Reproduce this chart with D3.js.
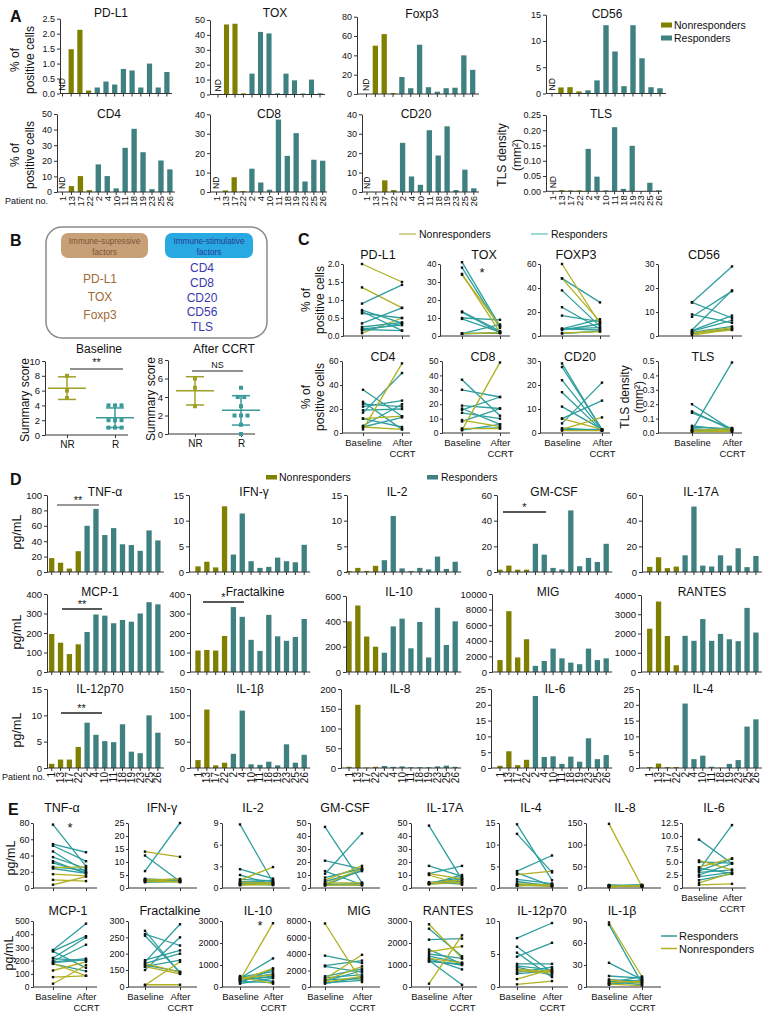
<!DOCTYPE html>
<html><head><meta charset="utf-8">
<script src="https://cdn.jsdelivr.net/npm/d3@7"></script>
<style>body{margin:0;background:#fff}svg{font-family:"Liberation Sans",Arial,sans-serif}</style>
</head><body><script>
// ---------- DATA ----------
const patients = ["1","13","17","22","2","4","10","11","18","19","23","25","26"];
const groups = ["NR","NR","NR","NR","R","R","R","R","R","R","R","R","R"];

// Panel A (% positive cells / TLS density); null = ND
const aPDL1 = [null,1.48,2.13,0.1,0.2,0.4,0.3,0.82,0.77,0.2,1.0,0.2,0.72];
const aTOX  = [null,47,47.5,0.8,14,42,41,0.8,14,9.5,0.7,10,0.8];
const aFOXP3= [null,50,62,1,17.6,6,51,7,2.4,6,6.5,40,25];
const aCD56 = [null,1.15,1.2,0.4,0.6,2.5,13,8,1.4,13,6.7,1.2,1.0];
const aCD4  = [null,3.8,10.2,1.2,17.7,10.2,2.3,28.3,40.5,25.5,1.8,20.2,14.5];
const aCD8  = [null,0.8,7.6,0.5,12,4.9,1.2,37.3,18.6,30.3,5.4,16.6,16.1];
const aCD20 = [null,0,6,1,25.3,8,3.7,31.8,18.8,33.8,1,11.5,1.9];
const aTLS  = [null,0.004,0.003,0.003,0.139,0.048,0.003,0.21,0.008,0.149,0.001,0.028,0.003];

// Panel B summary scores
const bBaselineNR = [8,6,5];
const bBaselineR  = [4,4,4,2,2,2,1,1,1];
const bAfterNR    = [6,5,3];
const bAfterR     = [5,4,4,3,2,2,2,1,0];

// Panel C paired values [baseline, after CCRT, group]
const cPDL1 = [[2.0,1.5,"NR"],[1.35,0.78,"NR"],[0.08,0.5,"NR"],[0.9,1.42,"R"],[0.72,0.36,"R"],[0.68,0.15,"R"],[0.63,0.5,"R"],[0.35,0.78,"R"],[0.25,0.38,"R"],[0.2,0.3,"R"],[0.18,0.15,"R"],[0.15,0.35,"R"]];
const cTOX  = [[41,5.5,"R"],[38,4.5,"R"],[13.6,2.7,"R"],[13.2,1.8,"R"],[10,9,"R"],[9.5,2.2,"R"],[1.3,6.4,"R"],[1.5,1.5,"R"],[1.2,1.8,"R"],[34,5.5,"NR"],[34.5,2,"NR"],[1.3,1.8,"NR"]];
const cFOXP3= [[48,28,"R"],[38,8,"R"],[24,6,"R"],[17,12,"R"],[6,14,"R"],[6,5,"R"],[6,7,"R"],[5,10,"R"],[2,4,"R"],[60,10,"NR"],[48,12,"NR"],[2.5,3.7,"NR"]];
const cCD56 = [[14,29,"R"],[14,7.5,"R"],[9,5.5,"R"],[8,18.7,"R"],[2.2,8.5,"R"],[2.5,19,"R"],[1.5,4,"R"],[2,6.5,"R"],[1,3,"R"],[1.2,2.5,"NR"],[1.3,3.5,"NR"],[0.4,2.8,"NR"]];
const cCD4  = [[36,14,"R"],[26,3,"R"],[24,22,"R"],[22,27,"R"],[17,50,"R"],[19,20,"R"],[12,5,"R"],[6,24,"R"],[5,13,"R"],[3,58,"NR"],[12,14,"NR"],[5,3,"NR"]];
const cCD8  = [[37,12,"R"],[30,25,"R"],[19,17,"R"],[17,6,"R"],[16,25,"R"],[14,10,"R"],[8,17,"R"],[3,3.5,"R"],[2,6,"R"],[2,49,"NR"],[9,4.5,"NR"],[3,3,"NR"]];
const cCD20 = [[29,1.2,"R"],[27.5,1.5,"R"],[22,1.2,"R"],[17,1,"R"],[11,1.5,"R"],[6,13.5,"R"],[4,21,"R"],[2,1,"R"],[1.5,1.5,"R"],[6,1.5,"NR"],[1.5,6.5,"NR"],[1,1,"NR"]];
const cTLS  = [[0.2,0.02,"R"],[0.15,0.02,"R"],[0.14,0.03,"R"],[0.02,0.49,"R"],[0.05,0.02,"R"],[0.04,0.03,"R"],[0.02,0.02,"R"],[0.03,0.01,"R"],[0.015,0.035,"R"],[0.01,0.02,"NR"],[0.02,0.03,"NR"],[0.01,0.01,"NR"]];

// Panel D cytokines (pg/mL) per patient
const dTNFa   = [18,12,4.5,27,60,82,48,57,36,35,27.5,54,41];
const dIFNg   = [1.1,2.0,0.9,12.8,3.4,11.4,2.1,0.8,1.0,2.8,2.1,1.9,5.3];
const dIL2    = [0.2,0.8,0.2,1.2,2.3,10.9,0.7,0.2,0.8,0.5,3.0,0.6,2.0];
const dGMCSF  = [1.8,5,1.8,1.8,22,13.5,3.2,2,48,4.5,11,7.8,22];
const dIL17A  = [4,11.5,3,4.2,13,51,5,4.3,13,5,18.5,3.8,12.5];
const dMCP1   = [195,150,92,142,205,295,289,250,267,258,300,358,347];
const dFKN    = [110,113,110,185,333,283,165,108,293,183,160,180,272];
const dIL10   = [400,525,280,200,152,360,421,187,395,115,507,213,400];
const dMIG    = [1530,7800,1870,4200,790,1410,3000,1750,1200,1000,3000,1530,1750];
const dRANTES = [2250,3660,1870,350,1880,1620,2750,1620,1980,1700,1600,3330,2050];
const dIL12   = [0.8,1.6,1.6,4,8.6,6.3,5.1,4.9,8.3,3.1,2.8,10,6.7];
const dIL1b   = [15,111,5,10,27,109,7,6,12,5,45,10,25];
const dIL8    = [3,160,1,3,5,3,4,2,2,2,4,6,3];
const dIL6    = [0.7,5.3,0.9,2.6,22.8,3.5,3.7,1.3,3.6,2.0,9.4,2.8,4.1];
const dIL4    = [0.3,1.4,0.3,0.3,20.4,2.8,3.9,0.4,0.1,1.3,2.5,13.1,15.4];

// Panel E paired cytokines [baseline, after CCRT, group]
const eTNFa  = [[78,27,"R"],[54,44,"R"],[52,33,"R"],[45,20,"R"],[38,24,"R"],[33,18,"R"],[31,19,"R"],[26,22,"R"],[24,18,"R"],[17,15,"NR"],[10,8.5,"NR"],[4,14,"NR"],[25,26,"NR"]];
const eIFNg  = [[12.5,2.5,"R"],[6.5,25,"R"],[3,2.5,"R"],[3.5,3,"R"],[2.5,2.8,"R"],[2.8,3.5,"R"],[3.2,2.6,"R"],[2.2,2.5,"R"],[3,3,"R"],[14,12,"NR"],[3,3.5,"NR"],[2.5,2.5,"NR"],[3.5,2.2,"NR"]];
const eIL2   = [[8.8,0.8,"R"],[2.6,1.3,"R"],[1.8,0.5,"R"],[1.2,1,"R"],[0.9,0.7,"R"],[0.7,1.1,"R"],[0.5,0.6,"R"],[0.4,0.9,"R"],[0.6,0.4,"R"],[1.1,2.9,"NR"],[0.5,0.6,"NR"],[0.8,0.7,"NR"],[0.4,0.5,"NR"]];
const eGMCSF = [[47,4,"R"],[21,14.5,"R"],[13,2.5,"R"],[11,42,"R"],[8,15,"R"],[5,13,"R"],[3,2,"R"],[2.5,3.5,"R"],[2,14,"R"],[6,17,"NR"],[4,4,"NR"],[2,2.5,"NR"],[3,15,"NR"]];
const eIL17A = [[48,6.5,"R"],[17,9,"R"],[11,17,"R"],[4,8,"R"],[3.5,5,"R"],[3,10,"R"],[4.5,3,"R"],[3,7,"R"],[3.2,4,"R"],[11,7,"NR"],[10,2.5,"NR"],[4,6,"NR"],[3,4.5,"NR"]];
const eIL4   = [[14.7,1.8,"R"],[12.5,3.6,"R"],[3.9,7.5,"R"],[3.5,0.5,"R"],[2,1,"R"],[1.5,0.4,"R"],[0.8,0.6,"R"],[0.5,1,"R"],[0.6,0.5,"R"],[3.1,3.9,"NR"],[1,0.6,"NR"],[0.5,0.8,"NR"],[0.7,0.4,"NR"]];
const eIL8   = [[5,4,"R"],[6,7,"R"],[4,5,"R"],[7,3,"R"],[3,6,"R"],[5,5,"R"],[6,4,"R"],[4,7,"R"],[5,6,"R"],[148,3,"NR"],[3,5,"NR"],[5,4,"NR"],[2,6,"NR"]];
const eIL6   = [[9.3,4.7,"R"],[3.5,12.1,"R"],[5,4.8,"R"],[3.3,5.6,"R"],[3,3.5,"R"],[2.5,4.7,"R"],[2.2,3,"R"],[1.5,2.7,"R"],[3.8,2.8,"R"],[5.3,3.5,"NR"],[4,5.7,"NR"],[1,2.9,"NR"],[0.6,0.8,"NR"]];
const eMCP1  = [[280,480,"R"],[272,385,"R"],[220,375,"R"],[195,320,"R"],[190,215,"R"],[185,205,"R"],[270,145,"R"],[175,120,"R"],[215,200,"R"],[25,165,"NR"],[75,85,"NR"],[125,190,"NR"],[180,85,"NR"]];
const eFKN   = [[270,120,"R"],[255,130,"R"],[260,225,"R"],[175,290,"R"],[170,200,"R"],[165,135,"R"],[160,180,"R"],[150,250,"R"],[180,210,"R"],[20,20,"NR"],[15,175,"NR"],[170,130,"NR"],[160,115,"NR"]];
const eIL10  = [[400,1300,"R"],[450,700,"R"],[350,600,"R"],[300,500,"R"],[200,800,"R"],[150,400,"R"],[500,250,"R"],[250,200,"R"],[350,450,"R"],[320,2900,"NR"],[300,850,"NR"],[400,550,"NR"],[450,150,"NR"]];
const eMIG   = [[3800,2900,"R"],[2600,3200,"R"],[2500,1800,"R"],[1300,2200,"R"],[1100,1500,"R"],[900,1000,"R"],[700,2000,"R"],[500,800,"R"],[400,1200,"R"],[7700,600,"NR"],[1000,3900,"NR"],[800,2500,"NR"],[600,1300,"NR"]];
const eRANTES= [[2650,1400,"R"],[2150,2200,"R"],[1700,1050,"R"],[1500,1300,"R"],[1400,1100,"R"],[1300,800,"R"],[1200,100,"R"],[1200,1000,"R"],[1150,1050,"R"],[2850,1300,"NR"],[150,2350,"NR"],[1600,1850,"NR"],[1300,1100,"NR"]];
const eIL12  = [[7.4,9.7,"R"],[6.1,2.2,"R"],[5.2,1.5,"R"],[4.6,6.7,"R"],[3.5,3.5,"R"],[3.2,2.6,"R"],[2.2,3,"R"],[2,2.5,"R"],[3,1.8,"R"],[0.4,0.9,"NR"],[2.7,2.3,"NR"],[1.2,2.7,"NR"],[2.5,2.1,"NR"]];
const eIL1b  = [[85,5,"R"],[33,10,"R"],[15,12,"R"],[10,8,"R"],[8,3,"R"],[6,14,"R"],[5,6,"R"],[4,9,"R"],[3,10,"R"],[88,14,"NR"],[10,5,"NR"],[6,8,"NR"],[4,2,"NR"]];

// ---------- STYLE ----------
const OLIVE = "#808000", TEAL = "#3f8080";
const OLIVE_L = "#b0b020", TEAL_L = "#2e9e9e";
const B_NR = "#a0a028", B_R = "#3a9999";

const svg = d3.select("body").append("svg").attr("width",768).attr("height",1013);

function txt(x,y,s,o={}){
  const t = svg.append("text").attr("x",x).attr("y",y).text(s)
    .attr("font-size",o.size||12).attr("text-anchor",o.anchor||"middle").attr("fill",o.fill||"#111");
  if(o.bold) t.attr("font-weight","bold");
  if(o.rot) t.attr("transform",`rotate(-90,${x},${y})`);
  return t;
}
function styleAxis(sel,fs){
  sel.attr("font-size",fs||9).attr("font-family",null);
  sel.selectAll("path,line").attr("stroke","#333");
  sel.selectAll("text").attr("fill","#111");
}

// ---------- BAR CHART ----------
function barChart(c){
  const s = c.step;
  const y = d3.scaleLinear().domain([0,c.max]).range([c.y0,c.yTop]);
  const x = d3.scaleBand().domain(patients).range([c.c0 - s/2, c.c0 - s/2 + 13*s]).paddingInner(0.4).paddingOuter(0.2);
  const g = svg.append("g");
  const data = c.values.map((v,i)=>({v,p:patients[i],grp:groups[i]}));
  g.selectAll("rect").data(data.filter(d=>d.v!=null)).join("rect")
    .attr("x",d=>x(d.p)).attr("width",x.bandwidth())
    .attr("y",d=>y(d.v)).attr("height",d=>c.y0-y(d.v))
    .attr("fill",d=>d.grp==="NR"?OLIVE:TEAL);
  const ya = g.append("g").attr("transform",`translate(${c.ax},0)`)
    .call(d3.axisLeft(y).tickValues(c.ticks).tickFormat(d3.format(c.fmt||"d")).tickSize(3).tickPadding(2).tickSizeOuter(0));
  styleAxis(ya,c.fs||9);
  const xa = g.append("g").attr("transform",`translate(0,${c.y0})`)
    .call(d3.axisBottom(x).tickSize(3).tickSizeOuter(0).tickFormat(c.labels? d=>d : ()=>""));
  xa.select(".domain").attr("d",`M${c.ax},0H${c.end}`);
  styleAxis(xa,c.lfs||9.5);
  if(c.labels) xa.selectAll(".tick text").attr("transform","rotate(-90)").attr("text-anchor","end")
      .attr("x",-4).attr("y",0).attr("dy","0.35em");
  data.filter(d=>d.v==null).forEach(d=>{
    g.append("text").attr("transform",`translate(${x(d.p)+x.bandwidth()/2},${c.y0-3}) rotate(-90)`)
     .attr("dy","0.35em").attr("font-size",8.5).text("ND");
  });
  txt(c.tx,c.ty,c.title,{size:12});
}

// ---------- PAIRED CHART ----------
function pairChart(c,data){
  const y = c.pw ? d3.scaleLinear().domain(c.pw).range(c.pr) : d3.scaleLinear().domain([0,c.max]).range([c.y0,c.yTop]);
  const x = d3.scalePoint().domain(["Baseline","After CCRT"]).range([c.bx,c.ar]);
  const g = svg.append("g");
  const ya = g.append("g").attr("transform",`translate(${c.ax},0)`)
    .call(d3.axisLeft(y).tickValues(c.ticks).tickFormat(c.fmtFn || d3.format(c.fmt||"d")).tickSize(2).tickPadding(1.5).tickSizeOuter(0));
  styleAxis(ya,c.tfs||9);
  const xa = g.append("g").attr("transform",`translate(0,${c.y0})`)
    .call(d3.axisBottom(x).tickSize(3).tickSizeOuter(0));
  xa.select(".domain").attr("d",`M${c.ax},0H${c.end}`);
  styleAxis(xa,9.5);
  if(c.labels){
    xa.selectAll(".tick text").each(function(d){
      const t = d3.select(this); t.text(null);
      d.split(" ").forEach((p,i)=>t.append("tspan").attr("x",0).attr("dy",i?"1.15em":"0.71em").text(p));
    });
  } else xa.selectAll(".tick text").remove();
  g.selectAll("line.pr").data(data).join("line").attr("class","pr")
    .attr("x1",x("Baseline")).attr("x2",x("After CCRT"))
    .attr("y1",d=>y(d[0])).attr("y2",d=>y(d[1]))
    .attr("stroke",d=>d[2]==="NR"?OLIVE_L:TEAL_L).attr("stroke-width",1.3);
  const pts = data.flatMap(d=>[{x:x("Baseline"),v:d[0]},{x:x("After CCRT"),v:d[1]}]);
  g.selectAll("rect.pt").data(pts).join("rect").attr("class","pt")
    .attr("x",d=>d.x-1.2).attr("y",d=>y(d.v)-1.2).attr("width",2.4).attr("height",2.4).attr("fill","#111");
  txt(c.tx,c.ty,c.title,{size:12.5});
}

// ---------- DOT PLOT (B) ----------
function dotPlot(c){
  const y = d3.scaleLinear().domain([0,c.max]).range([c.y0,c.yTop]);
  const x = d3.scalePoint().domain(["NR","R"]).range([c.nrx,c.rx]);
  const g = svg.append("g");
  const ya = g.append("g").attr("transform",`translate(${c.ax},0)`)
    .call(d3.axisLeft(y).tickValues(c.ticks).tickSize(3).tickPadding(2).tickSizeOuter(0));
  styleAxis(ya,9.5);
  const xa = g.append("g").attr("transform",`translate(0,${c.y0})`)
    .call(d3.axisBottom(x).tickSize(3).tickSizeOuter(0));
  xa.select(".domain").attr("d",`M${c.ax},0H${c.end}`);
  styleAxis(xa,10);
  [["NR",c.nr,B_NR],["R",c.r,B_R]].forEach(([k,vals,col])=>{
    const m = d3.mean(vals), sd = d3.deviation(vals), cx = x(k);
    g.append("line").attr("x1",cx-19).attr("x2",cx+19).attr("y1",y(m)).attr("y2",y(m)).attr("stroke",col).attr("stroke-width",1.5);
    g.append("line").attr("x1",cx).attr("x2",cx).attr("y1",y(m-sd)).attr("y2",y(m+sd)).attr("stroke",col).attr("stroke-width",1.5);
    [m-sd,m+sd].forEach(v=>g.append("line").attr("x1",cx-9).attr("x2",cx+9).attr("y1",y(v)).attr("y2",y(v)).attr("stroke",col).attr("stroke-width",1.5));
    const cnt = d3.rollup(vals,v=>v.length,d=>d);
    const seen = new Map();
    const pts = vals.map(v=>{const j=seen.get(v)||0; seen.set(v,j+1); return {v,off:(j-(cnt.get(v)-1)/2)*6.5};});
    g.selectAll(null).data(pts).join("rect").attr("x",d=>cx+d.off-2).attr("y",d=>y(d.v)-2)
      .attr("width",4).attr("height",4).attr("fill",col);
  });
  txt(c.tx,c.ty,c.title,{size:12});
  g.append("line").attr("x1",c.s1).attr("x2",c.s2).attr("y1",c.sy).attr("y2",c.sy).attr("stroke","#222").attr("stroke-width",1);
  txt((c.s1+c.s2)/2,c.sy-3,c.sig,{size:c.sig==="NS"?9:11});
  txt(c.ytx, (c.y0+c.yTop)/2+2, "Summary score",{size:12,rot:true});
}

// ================= PANEL A =================
txt(10,22,"A",{size:16,bold:true,anchor:"start"});
barChart({title:"PD-L1",values:aPDL1,ax:60,c0:62.5,step:8.7,end:172,y0:93.5,yTop:18.7,max:2.5,ticks:[0,0.5,1,1.5,2,2.5],fmt:".1f",tx:111,ty:17});
barChart({title:"TOX",values:aTOX,ax:210,c0:218,step:8.5,end:325,y0:94.5,yTop:20,max:50,ticks:[0,10,20,30,40,50],tx:275,ty:17});
barChart({title:"Foxp3",values:aFOXP3,ax:357,c0:366.5,step:8.85,end:479,y0:94,yTop:16.7,max:80,ticks:[0,20,40,60,80],tx:422,ty:18});
barChart({title:"CD56",values:aCD56,ax:546,c0:552,step:9.0,end:666,y0:93.5,yTop:14.7,max:15,ticks:[0,5,10,15],tx:607,ty:18});
barChart({title:"CD4",values:aCD4,ax:57,c0:62.5,step:8.95,end:175,y0:192,yTop:114,max:50,ticks:[0,10,20,30,40,50],tx:109,ty:118,labels:true});
barChart({title:"CD8",values:aCD8,ax:210,c0:216.5,step:8.85,end:327,y0:192,yTop:114.3,max:40,ticks:[0,10,20,30,40],tx:269,ty:118,labels:true});
barChart({title:"CD20",values:aCD20,ax:362,c0:367,step:8.9,end:479,y0:192,yTop:114.3,max:40,ticks:[0,10,20,30,40],tx:416,ty:118,labels:true});
barChart({title:"TLS",values:aTLS,ax:546,c0:553,step:8.8,end:662,y0:191.3,yTop:115,max:0.25,ticks:[0,0.05,0.1,0.15,0.2,0.25],fmt:".2f",tx:601,ty:118,labels:true});
// A y titles
txt(19,60,"% of",{size:12,rot:true}); txt(34,60,"positive cells",{size:12,rot:true});
txt(19,155,"% of",{size:12,rot:true}); txt(34,155,"positive cells",{size:12,rot:true});
txt(506,155,"TLS density",{size:12,rot:true}); txt(521,155,"(mm²)",{size:12,rot:true});
txt(5,204,"Patient no.",{size:9,anchor:"start"});
// A legend
svg.append("rect").attr("x",661).attr("y",22.5).attr("width",11).attr("height",5).attr("fill",OLIVE);
svg.append("rect").attr("x",661).attr("y",35.5).attr("width",11).attr("height",5).attr("fill",TEAL);
txt(674,29,"Nonresponders",{size:10.5,anchor:"start"});
txt(674,42,"Responders",{size:10.5,anchor:"start"});

// ================= PANEL B =================
txt(10,246,"B",{size:16,bold:true,anchor:"start"});
svg.append("rect").attr("x",46).attr("y",227).attr("width",221).attr("height",111).attr("rx",16)
  .attr("fill","none").attr("stroke","#8a8a8a").attr("stroke-width",1.5);
svg.append("rect").attr("x",61).attr("y",233).attr("width",87).attr("height",25).attr("rx",7).attr("fill","#c8a078");
svg.append("rect").attr("x",165).attr("y",233).attr("width",88).attr("height",25).attr("rx",7).attr("fill","#29a9e1");
txt(104.5,244,"Immune-supressive",{size:8.2,fill:"#7a5534"}); txt(104.5,255,"factors",{size:8.2,fill:"#7a5534"});
txt(209,243.5,"Immune-stimulative",{size:8.2,fill:"#283a92"}); txt(209,254.5,"factors",{size:8.2,fill:"#283a92"});
["PD-L1","TOX","Foxp3"].forEach((s,i)=>txt(100,283+i*18,s,{size:12,fill:"#a06a35"}));
["CD4","CD8","CD20","CD56","TLS"].forEach((s,i)=>txt(202,272+i*14.8,s,{size:12,fill:"#3a3ab0"}));
dotPlot({title:"Baseline",tx:99,ty:353,ax:45,end:128,y0:435,yTop:361,max:10,ticks:[0,2,4,6,8,10],nrx:67,rx:115,nr:bBaselineNR,r:bBaselineR,s1:70,s2:123,sy:369,sig:"**",ytx:29});
dotPlot({title:"After CCRT",tx:224,ty:353,ax:168,end:255,y0:434,yTop:360,max:8,ticks:[0,2,4,6,8],nrx:195,rx:241,nr:bAfterNR,r:bAfterR,s1:192,s2:243,sy:371,sig:"NS",ytx:155});

// ================= PANEL C =================
txt(298,245,"C",{size:16,bold:true,anchor:"start"});
svg.append("line").attr("x1",399).attr("x2",416).attr("y1",234).attr("y2",234).attr("stroke","#c8c070").attr("stroke-width",1.5);
txt(419,237.5,"Nonresponders",{size:10.5,anchor:"start"});
svg.append("line").attr("x1",531).attr("x2",548).attr("y1",234).attr("y2",234).attr("stroke","#7ccccc").attr("stroke-width",1.5);
txt(551,237.5,"Responders",{size:10.5,anchor:"start"});
const cF = {tfs:8.5};
pairChart(Object.assign({title:"PD-L1",tx:378,ty:259,ax:343,bx:362,ar:402,end:410,y0:336,yTop:264,max:2,ticks:[0,0.5,1,1.5,2],fmt:".1f"},cF),cPDL1);
pairChart(Object.assign({title:"TOX",tx:484,ty:259,ax:440,bx:462,ar:500,end:510,y0:336,yTop:264,max:40,ticks:[0,10,20,30,40]},cF),cTOX);
pairChart(Object.assign({title:"FOXP3",tx:576,ty:259,ax:540,bx:562,ar:600,end:610,y0:336,yTop:264,max:60,ticks:[0,20,40,60]},cF),cFOXP3);
pairChart(Object.assign({title:"CD56",tx:704,ty:259,ax:658,bx:692,ar:732,end:742,y0:336,yTop:264,max:30,ticks:[0,10,20,30]},cF),cCD56);
pairChart(Object.assign({title:"CD4",tx:383,ty:361,ax:342,bx:363,ar:402,end:410,y0:433,yTop:361,max:60,ticks:[0,20,40,60],labels:true},cF),cCD4);
pairChart(Object.assign({title:"CD8",tx:483,ty:361,ax:442,bx:462,ar:500,end:510,y0:433,yTop:361,max:50,ticks:[0,10,20,30,40,50],labels:true},cF),cCD8);
pairChart(Object.assign({title:"CD20",tx:580,ty:361,ax:540,bx:562,ar:602,end:610,y0:433,yTop:361,max:30,ticks:[0,10,20,30],labels:true},cF),cCD20);
pairChart(Object.assign({title:"TLS",tx:703,ty:361,ax:658,bx:692,ar:732,end:742,y0:433,yTop:361,max:0.5,ticks:[0,0.1,0.2,0.3,0.4,0.5],fmt:".1f",labels:true},cF),cTLS);
txt(482,277,"*",{size:13});
txt(310,300,"% of",{size:12,rot:true}); txt(324,300,"positive cells",{size:12,rot:true});
txt(310,397,"% of",{size:12,rot:true}); txt(324,397,"positive cells",{size:12,rot:true});
txt(629,397,"TLS density",{size:12,rot:true}); txt(643,397,"(mm²)",{size:12,rot:true});

// ================= PANEL D =================
txt(10,485,"D",{size:16,bold:true,anchor:"start"});
svg.append("rect").attr("x",266).attr("y",475).attr("width",11).attr("height",4.5).attr("fill",OLIVE);
txt(279,481,"Nonresponders",{size:10.5,anchor:"start"});
svg.append("rect").attr("x",427).attr("y",475).attr("width",11).attr("height",4.5).attr("fill",TEAL);
txt(441,481,"Responders",{size:10.5,anchor:"start"});
const dc0 = [51.7,198,349,500,649.7];
function dBar(col,ax,o){ barChart(Object.assign({ax,c0:dc0[col],step:8.85,end:dc0[col]+12*8.85+6,fs:9.5,lfs:10},o)); }
dBar(0,47,{title:"TNF-α",values:dTNFa,y0:572,yTop:495,max:100,ticks:[0,20,40,60,80,100],tx:105,ty:496});
dBar(1,189,{title:"IFN-γ",values:dIFNg,y0:572,yTop:495,max:15,ticks:[0,5,10,15],tx:254,ty:496});
dBar(2,347,{title:"IL-2",values:dIL2,y0:572,yTop:495,max:15,ticks:[0,5,10,15],tx:397,ty:496});
dBar(3,497,{title:"GM-CSF",values:dGMCSF,y0:572,yTop:495,max:60,ticks:[0,20,40,60],tx:554,ty:496});
dBar(4,642,{title:"IL-17A",values:dIL17A,y0:572,yTop:495,max:60,ticks:[0,20,40,60],tx:701,ty:496});
dBar(0,47,{title:"MCP-1",values:dMCP1,y0:672,yTop:594,max:400,ticks:[0,100,200,300,400],tx:100,ty:596});
dBar(1,190,{title:"Fractalkine",values:dFKN,y0:672,yTop:594,max:400,ticks:[0,100,200,300,400],tx:255,ty:596});
dBar(2,346,{title:"IL-10",values:dIL10,y0:672,yTop:596,max:600,ticks:[0,200,400,600],tx:399,ty:596});
dBar(3,492,{title:"MIG",values:dMIG,y0:672,yTop:594,max:10000,ticks:[0,2000,4000,6000,8000,10000],tx:548,ty:596});
dBar(4,641,{title:"RANTES",values:dRANTES,y0:672,yTop:595,max:4000,ticks:[0,1000,2000,3000,4000],tx:702,ty:596});
dBar(0,47,{title:"IL-12p70",values:dIL12,y0:768,yTop:689,max:15,ticks:[0,5,10,15],tx:100,ty:693,labels:true});
dBar(1,190,{title:"IL-1β",values:dIL1b,y0:768,yTop:689,max:150,ticks:[0,50,100,150],tx:250,ty:693,labels:true});
dBar(2,341,{title:"IL-8",values:dIL8,y0:768,yTop:689,max:200,ticks:[0,50,100,150,200],tx:400,ty:693,labels:true});
dBar(3,491,{title:"IL-6",values:dIL6,y0:768,yTop:689,max:25,ticks:[0,5,10,15,20,25],tx:555,ty:693,labels:true});
dBar(4,639,{title:"IL-4",values:dIL4,y0:768,yTop:689,max:25,ticks:[0,5,10,15,20,25],tx:703,ty:693,labels:true});
txt(2,780,"Patient no.",{size:9,anchor:"start"});
txt(21,532,"pg/mL",{size:12.5,rot:true}); txt(21,632,"pg/mL",{size:12.5,rot:true}); txt(21,730,"pg/mL",{size:12.5,rot:true});
// significance bars
[[57,99,505,"**","#777"],[503,546,512,"*","#222"],[62,102,609,"**","#222"],[203,244,602,"*","#222"],[61,102,713,"**","#222"]].forEach(([a,b,yy,s,col])=>{
  svg.append("line").attr("x1",a).attr("x2",b).attr("y1",yy).attr("y2",yy).attr("stroke",col).attr("stroke-width",1.3);
  txt((a+b)/2,yy-1,s,{size:11});
});

// ================= PANEL E =================
txt(8,815,"E",{size:16,bold:true,anchor:"start"});
const r1 = {y0:888,yTop:823}, r2 = {y0:987,yTop:921};
const cols = [{ax:33,bx:53,ar:86,end:97},{ax:128,bx:145,ar:180,end:197},{ax:222,bx:240,ar:273,end:290},{ax:310,bx:325,ar:362,end:380},
              {ax:411,bx:429,ar:462,end:477},{ax:499,bx:517,ar:552,end:568},{ax:586,bx:609,ar:642,end:661},{ax:682,bx:699,ar:732,end:746}];
function eChart(ci,row,o,data){ pairChart(Object.assign({tfs:9},cols[ci],row,o),data); }
eChart(0,r1,{title:"TNF-α",tx:62,ty:812,max:80,ticks:[0,20,40,60,80]},eTNFa);
eChart(1,r1,{title:"IFN-γ",tx:162,ty:812,max:25,ticks:[0,5,10,15,20,25]},eIFNg);
eChart(2,r1,{title:"IL-2",tx:253,ty:812,max:9,ticks:[0,3,6,9]},eIL2);
eChart(3,r1,{title:"GM-CSF",tx:345,ty:812,max:50,ticks:[0,10,20,30,40,50]},eGMCSF);
eChart(4,r1,{title:"IL-17A",tx:445,ty:812,max:50,ticks:[0,10,20,30,40,50]},eIL17A);
eChart(5,r1,{title:"IL-4",tx:531,ty:812,max:15,ticks:[0,5,10,15]},eIL4);
eChart(6,r1,{title:"IL-8",tx:625,ty:812,max:150,ticks:[0,50,100,150]},eIL8);
eChart(7,r1,{title:"IL-6",tx:714,ty:812,max:12.5,ticks:[0,2.5,5,7.5,10,12.5],fmtFn:d=>d===0?"0":d3.format(".1f")(d),labels:true},eIL6);
eChart(0,r2,{title:"MCP-1",tx:68,ty:915,max:500,ticks:[0,100,200,300,400,500],labels:true,tfs:8.5},eMCP1);
eChart(1,r2,{title:"Fractalkine",tx:170,ty:915,pw:[0,150,300],pr:[987,970,921],ticks:[0,150,200,250,300],labels:true},eFKN);
eChart(2,r2,{title:"IL-10",tx:258,ty:915,max:3000,ticks:[0,1000,2000,3000],labels:true},eIL10);
eChart(3,r2,{title:"MIG",tx:359,ty:915,max:8000,ticks:[0,2000,4000,6000,8000],labels:true},eMIG);
eChart(4,r2,{title:"RANTES",tx:448,ty:915,max:3000,ticks:[0,1000,2000,3000],labels:true},eRANTES);
eChart(5,r2,{title:"IL-12p70",tx:542,ty:915,max:10,ticks:[0,5,10],labels:true},eIL12);
eChart(6,r2,{title:"IL-1β",tx:622,ty:915,max:90,ticks:[0,30,60,90],labels:true},eIL1b);
txt(70,832,"*",{size:13}); txt(260,930,"*",{size:13});
txt(15,858,"pg/mL",{size:12.5,rot:true}); txt(13,953,"pg/mL",{size:12.5,rot:true});
svg.append("line").attr("x1",661).attr("x2",677).attr("y1",936).attr("y2",936).attr("stroke",TEAL_L).attr("stroke-width",1.5);
txt(679,940,"Responders",{size:11,anchor:"start"});
svg.append("line").attr("x1",661).attr("x2",677).attr("y1",948.5).attr("y2",948.5).attr("stroke",OLIVE_L).attr("stroke-width",1.5);
txt(679,952.5,"Nonresponders",{size:11,anchor:"start"});
</script></body></html>
